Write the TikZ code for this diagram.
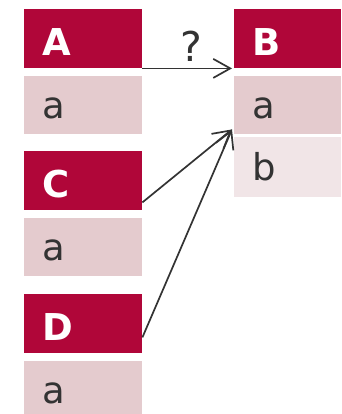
\documentclass[tikz,border=0pt]{standalone}
\usepackage{fontspec}
\setmainfont{DejaVu Sans}
\usetikzlibrary{arrows.meta}
\definecolor{crim}{HTML}{B00639}
\definecolor{rowa}{HTML}{E4CBCE}
\definecolor{rowb}{HTML}{F1E5E7}
\definecolor{ink}{HTML}{333333}
\tikzset{
  box/.style={anchor=north west, inner xsep=18pt, inner ysep=0pt, align=left,
    font=\fontsize{37}{40}\selectfont},
  head/.style={box, fill=crim, text=white, font=\fontsize{37}{40}\selectfont\bfseries,
    minimum height=59pt, text height=33pt, text depth=0pt},
  rowA/.style={box, fill=rowa, text=ink, minimum height=58pt, text height=26pt, text depth=0pt},
  rowB/.style={box, fill=rowb, text=ink, minimum height=60pt, text height=26pt, text depth=0pt},
  lw/.style={text width=82pt},
  rw/.style={text width=71pt},
  conn/.style={draw=ink, line width=1.7pt, -{Straight Barb[length=17pt,width=19pt,line width=1.7pt]}}
}
\begin{document}
\begin{tikzpicture}[x=1pt,y=-1pt]
\useasboundingbox (0,0) rectangle (341,414);
% left tables
\node[head,lw] (A) at (24,9) {A};
\node[rowA,lw] (Aa) at (24,76) {a};
\node[head,lw] (C) at (24,151) {C};
\node[rowA,lw] (Ca) at (24,218) {a};
\node[head,lw] (D) at (24,294) {D};
\node[rowA,lw] (Da) at (24,361) {a};
% right table
\node[head,rw] (B) at (234,9) {B};
\node[rowA,rw] (Ba) at (234,76) {a};
\node[rowB,rw] (Bb) at (234,137) {b};
% connectors
\draw[conn] (A.south east) -- node[pos=0.55, above=6pt, inner sep=0pt, text=ink,
  font=\fontsize{41}{44}\selectfont] (q) {?} ([xshift=-2pt]B.south west);
\draw[conn] ([yshift=8pt]C.south east) -- ([xshift=-2pt,yshift=5pt]Ba.south west);
\draw[conn] ([yshift=16pt]D.south east) -- ([xshift=-2pt,yshift=5pt]Ba.south west);
\end{tikzpicture}
\end{document}
